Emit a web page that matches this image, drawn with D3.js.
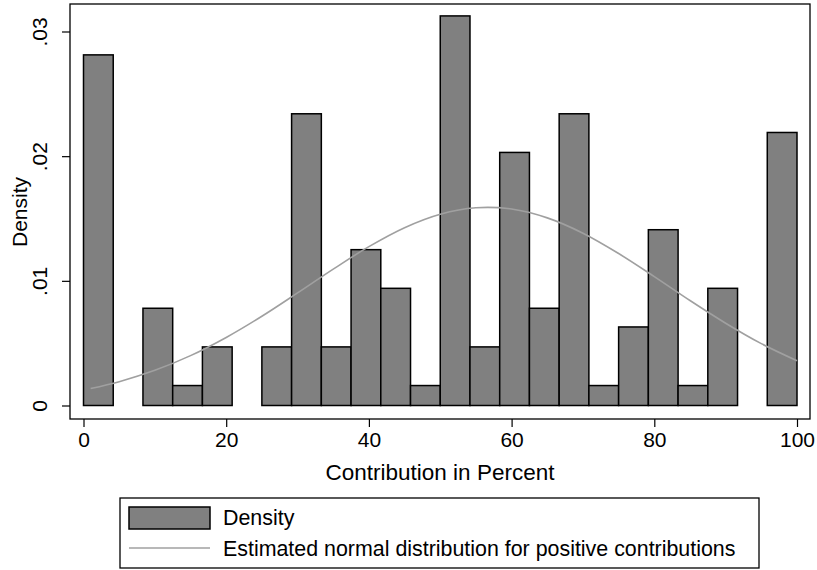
<!DOCTYPE html>
<meta charset="utf-8">
<style>
  body { margin: 0; background: #fff; }
  text { font-family: "Liberation Sans", Arial, sans-serif; fill: #000; }
  .bar { fill: #808080; stroke: #000; stroke-width: 1.5; }
  .curve { fill: none; stroke: #a0a0a0; stroke-width: 1.6; }
  .frame { fill: none; stroke: #000; stroke-width: 1.3; }
  .axis path { display: none; }
  .axis line { stroke: #000; stroke-width: 1.2; }
</style>
<body>
<div id="chart"></div>
<script src="https://d3js.org/d3.v7.min.js"></script>
<script>
// histogram: 24 bins over 0..100, density per bin (0 = empty bin)
var binWidth = 100 / 24;
var density = [0.028125, 0, 0.0078, 0.0016, 0.0047, 0, 0.0047, 0.0234, 0.0047, 0.0125,
               0.0094, 0.0016, 0.03125, 0.0047, 0.0203, 0.0078, 0.0234, 0.0016, 0.0063,
               0.0141, 0.0016, 0.0094, 0, 0.0219];

// fitted normal curve
var curveX = [1, 5, 10, 15, 20, 25, 30, 35, 40, 45, 50, 55, 60, 65, 70, 75, 80, 85, 90, 95, 100];
var curveY = [0.00136, 0.00191, 0.00282, 0.00400, 0.00546, 0.00716, 0.00903, 0.01094, 0.01274,
              0.01426, 0.01534, 0.01586, 0.01576, 0.01505, 0.01382, 0.01219, 0.01034, 0.00842,
              0.00660, 0.00496, 0.00359];

var xTicks = [0, 20, 40, 60, 80, 100];
var yTicks = [0, 0.01, 0.02, 0.03];
var legendLabels = ["Density", "Estimated normal distribution for positive contributions"];

var width = 817,
    height = 570;

var svg = d3.select("#chart").append("svg")
    .attr("width", width)
    .attr("height", height);

var x = d3.scaleLinear().domain([0, 100]).range([83.5, 797]);
var y = d3.scaleLinear().domain([0, 0.03]).range([405.5, 31.5]);

// plot frame
svg.append("rect")
    .attr("class", "frame")
    .attr("x", 70).attr("y", 4)
    .attr("width", 740).attr("height", 415);

// bars
svg.append("g").selectAll("rect")
    .data(density.map(function(d, i) { return {i: i, v: d}; }).filter(function(d) { return d.v > 0; }))
  .enter().append("rect")
    .attr("class", "bar")
    .attr("x", function(d) { return x(d.i * binWidth); })
    .attr("width", function(d) { return x((d.i + 1) * binWidth) - x(d.i * binWidth); })
    .attr("y", function(d) { return y(d.v); })
    .attr("height", function(d) { return y(0) - y(d.v); });

// normal curve
var line = d3.line()
    .x(function(d) { return x(d[0]); })
    .y(function(d) { return y(d[1]); })
    .curve(d3.curveCatmullRom);

svg.append("path")
    .datum(curveX.map(function(d, i) { return [d, curveY[i]]; }))
    .attr("class", "curve")
    .attr("d", line);

// x axis
var xAxis = svg.append("g")
    .attr("class", "axis")
    .attr("transform", "translate(0,419)")
    .call(d3.axisBottom(x).tickValues(xTicks).tickSize(8).tickPadding(5));
xAxis.selectAll("text").style("font-size", "21px");

// y axis with stata style labels
var yAxis = svg.append("g")
    .attr("class", "axis")
    .attr("transform", "translate(70,0)")
    .call(d3.axisLeft(y).tickValues(yTicks).tickSize(8)
      .tickFormat(function(d) { return d === 0 ? "0" : String(d).replace(/^0/, ""); }));
yAxis.selectAll("text")
    .style("font-size", "21px")
    .attr("text-anchor", "middle")
    .attr("transform", "rotate(-90)")
    .attr("x", 0)
    .attr("y", -23)
    .attr("dy", "0");

// axis titles
svg.append("text")
    .attr("x", 440).attr("y", 480)
    .attr("text-anchor", "middle")
    .style("font-size", "22.5px")
    .text("Contribution in Percent");

svg.append("text")
    .attr("transform", "translate(27,212) rotate(-90)")
    .attr("text-anchor", "middle")
    .style("font-size", "21px")
    .text("Density");

// legend
var legend = svg.append("g");
legend.append("rect")
    .attr("x", 120).attr("y", 498)
    .attr("width", 639).attr("height", 70)
    .attr("fill", "#fff").attr("stroke", "#000").attr("stroke-width", 1.3);

legend.append("rect")
    .attr("class", "bar")
    .attr("x", 129).attr("y", 507)
    .attr("width", 81).attr("height", 22);

legend.append("line")
    .attr("x1", 129).attr("x2", 210)
    .attr("y1", 548).attr("y2", 548)
    .attr("stroke", "#a0a0a0").attr("stroke-width", 1.6);

legend.selectAll("text.lab")
    .data(legendLabels)
  .enter().append("text")
    .attr("class", "lab")
    .attr("x", 223)
    .attr("y", function(d, i) { return 525 + i * 31; })
    .style("font-size", "21.4px")
    .text(function(d) { return d; });
</script>
</body>
